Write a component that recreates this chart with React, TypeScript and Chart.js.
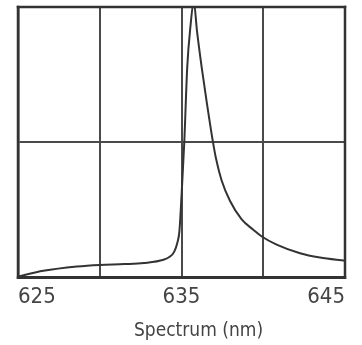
import React, { useEffect, useRef } from "react";
import { Chart, registerables } from "chart.js";

Chart.register(...registerables);

const wavelengths = [
  625, 626.55, 628.6, 630, 631.5, 632.7, 633.9, 634.3, 634.55, 634.75, 634.87,
  635.0, 635.17, 635.35, 635.55, 635.75, 635.95, 636.235, 636.53, 636.9, 637.11,
  637.45, 637.97, 638.68, 639.39, 639.91, 640.82, 642.25, 643.47, 645,
];
const intensity = [
  0.004, 0.025, 0.041, 0.047, 0.05, 0.054, 0.066, 0.078, 0.095, 0.13, 0.17,
  0.3, 0.5, 0.777, 0.93, 1.02, 0.91, 0.777, 0.654, 0.51, 0.44, 0.36, 0.283,
  0.215, 0.177, 0.152, 0.122, 0.09, 0.074, 0.062,
];
const labeledTicks = [625, 635, 645];
const axisTitle = "Spectrum (nm)";

const FONT = '"Liberation Sans Narrow", "DejaVu Sans Condensed", sans-serif';

export default function App() {
  const ref = useRef<HTMLCanvasElement | null>(null);
  useEffect(() => {
    if (!ref.current) return;
    const framePlugin = {
      id: "frameAndTitle",
      afterDraw(chart: any) {
        const { ctx, chartArea } = chart;
        const { left, right, top, bottom } = chartArea;
        const t = 2.5;
        ctx.save();
        ctx.fillStyle = "#333";
        ctx.fillRect(left - t / 2, top - t / 2, right - left + t, t);
        ctx.fillRect(left - t / 2, bottom - t / 2, right - left + t, t);
        ctx.fillRect(left - t / 2, top - t / 2, t, bottom - top + t);
        ctx.fillRect(right - t / 2, top - t / 2, t, bottom - top + t);
        ctx.font = `19px ${FONT}`;
        ctx.fillStyle = "#444";
        ctx.textAlign = "center";
        ctx.textBaseline = "middle";
        const cx = (left + right) / 2 + 17;
        ctx.fillText(axisTitle, cx, bottom + 53);
        ctx.restore();
      },
    };
    const chart = new Chart(ref.current, {
      type: "line",
      data: {
        datasets: [
          {
            data: wavelengths.map((x, i) => ({ x, y: intensity[i] })),
            borderColor: "#333",
            borderWidth: 2,
            pointRadius: 0,
            cubicInterpolationMode: "monotone",
            fill: false,
            clip: 0,
          },
        ],
      },
      options: {
        animation: false,
        responsive: false,
        maintainAspectRatio: false,
        layout: { padding: { left: 18, right: 17, top: 7, bottom: 29 } },
        plugins: { legend: { display: false }, tooltip: { enabled: false } },
        scales: {
          x: {
            type: "linear",
            min: 625,
            max: 645,
            ticks: {
              stepSize: 5,
              align: "inner",
              padding: 6,
              color: "#444",
              font: { family: FONT, size: 22 },
              maxRotation: 0,
              autoSkip: false,
              callback: (v: any) =>
                labeledTicks.includes(Number(v)) ? String(v) : "",
            },
            grid: { color: "#4a4a4a", lineWidth: 2, drawTicks: false },
            border: { color: "#333", width: 2.5 },
          },
          y: {
            min: 0,
            max: 1,
            ticks: { display: false, stepSize: 0.5 },
            grid: { color: "#4a4a4a", lineWidth: 2, drawTicks: false },
            border: { color: "#333", width: 2.5 },
          },
        },
      },
      plugins: [framePlugin],
    });
    return () => chart.destroy();
  }, []);
  return (
    <div style={{ position: "absolute", top: 0, left: 0, width: 362, height: 345, background: "#fff" }}>
      <canvas ref={ref} width={362} height={345} style={{ display: "block" }} />
    </div>
  );
}
